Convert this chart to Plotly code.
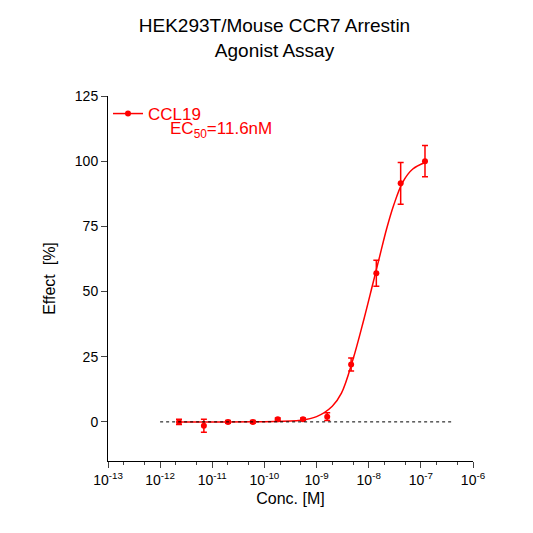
import plotly.graph_objects as go

conc = [2.3e-12, 6.9e-12, 2.0e-11, 6.0e-11, 1.8e-10, 5.5e-10, 1.6e-9, 4.6e-9, 1.4e-8, 4.1e-8, 1.2e-7]
effect = [0, -1.5, 0, 0, 1, 1, 2, 22, 57, 91.5, 100]
err = [1, 2.5, 0.5, 0.5, 0.5, 0.5, 1.5, 2.5, 5, 8, 6]

fit_x = [2.3e-12, 1e-11, 1e-10, 5e-10, 1e-9, 2e-9, 3e-9, 5e-9, 8e-9, 1.2e-8, 1.6e-8, 2.2e-8, 3e-8, 4.5e-8, 7e-8, 1.2e-7]
fit_y = [0, 0, 0.1, 0.6, 2, 6, 11, 24, 39, 53, 63, 74, 83, 92, 97, 99.5]

red = "#ff0000"
fig = go.Figure()
fig.add_trace(go.Scatter(x=fit_x, y=fit_y, mode="lines", line=dict(color=red, width=1.5, shape="spline"),
                         showlegend=False, hoverinfo="skip"))
fig.add_trace(go.Scatter(x=conc, y=effect, mode="markers+lines", name="CCL19",
                         marker=dict(color=red, size=6),
                         error_y=dict(array=err, color=red, thickness=1.5, width=3),
                         line=dict(color=red, width=0)))
fig.add_trace(go.Scatter(x=[None], y=[None], mode="markers+lines", name="CCL19",
                         marker=dict(color=red, size=6), line=dict(color=red, width=1.5)))
fig.data[1].showlegend = False

fig.add_shape(type="line", xref="x", yref="y", x0=1e-12, x1=4e-7, y0=0, y1=0,
              line=dict(color="black", width=1, dash="dot"))
fig.add_annotation(x=-11.85, y=112, xref="x", yref="y", showarrow=False, xanchor="left",
                   text="EC<sub>50</sub>=11.6nM", font=dict(color=red, size=17))

tv = [10.0 ** e for e in range(-13, -5)]
tt = ["10<sup>%d</sup>" % e for e in range(-13, -5)]
fig.update_layout(
    width=533, height=533, paper_bgcolor="white", plot_bgcolor="white",
    margin=dict(l=100, r=68, t=88, b=80),
    title=dict(text="HEK293T/Mouse CCR7 Arrestin<br>Agonist Assay", x=0.5, xanchor="center", y=0.955,
               font=dict(family="Arial", size=19, color="black")),
    font=dict(family="Arial", color="black", size=14),
    legend=dict(x=0.0, y=1.0, xanchor="left", yanchor="top", font=dict(color=red, size=17),
                bgcolor="rgba(0,0,0,0)"),
    xaxis=dict(type="log", range=[-13, -6], tickvals=tv, ticktext=tt, showline=True, linecolor="black",
               ticks="outside", ticklen=6, showgrid=False, zeroline=False,
               minor=dict(ticks="outside", ticklen=3, showgrid=False),
               title=dict(text="Conc. [M]", font=dict(size=16), standoff=6)),
    yaxis=dict(range=[-15, 125], tickvals=[0, 25, 50, 75, 100, 125], showline=True, linecolor="black",
               ticks="outside", ticklen=6, showgrid=False, zeroline=False,
               title=dict(text="Effect  [%]", font=dict(size=16))),
)
fig.write_html("out.html")
